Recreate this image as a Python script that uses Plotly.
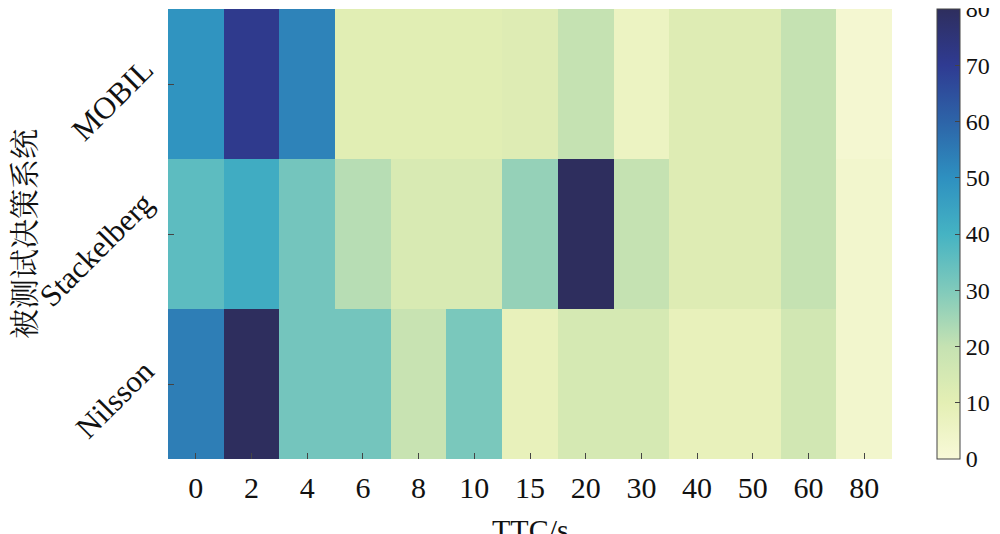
import plotly.graph_objects as go

ttc_labels = ["0", "2", "4", "6", "8", "10", "15", "20", "30", "40", "50", "60", "80"]
systems = ["MOBIL", "Stackelberg", "Nilsson"]
mobil = [49, 71, 53, 11, 11, 11, 12, 20, 6, 12, 12, 20, 2]
stackelberg = [36, 42, 32, 22, 14, 14, 27, 80, 20, 12, 12, 20, 3]
nilsson = [54, 80, 32, 32, 19, 31, 8, 15, 15, 8, 8, 16, 3]
cbar_ticks = [0, 10, 20, 30, 40, 50, 60, 70, 80]

ylgnbu = ['#f8f9d8', '#e4efb4', '#c5e2b2', '#80cabb', '#45b3c3',
          '#2e90c0', '#2d64a8', '#2f3b92', '#2e2e5e']
cscale = [[i / 8, c] for i, c in enumerate(ylgnbu)]

serif = "Liberation Serif, Times New Roman, serif"

fig = go.Figure(go.Heatmap(
    z=[mobil, stackelberg, nilsson],
    x=ttc_labels,
    y=systems,
    colorscale=cscale,
    zmin=0, zmax=80,
    xgap=0, ygap=0,
    colorbar=dict(
        thickness=23, len=1.0, lenmode="fraction",
        x=1.062, xanchor="left", xpad=0,
        y=1.0, yanchor="top", ypad=0,
        outlinecolor="#444", outlinewidth=1,
        ticks="inside", ticklen=5, tickcolor="#444",
        tickvals=cbar_ticks, ticklabeloverflow="allow",
        tickfont=dict(family=serif, size=24, color="#111"),
    ),
))

for s in systems:
    fig.add_annotation(
        x=0, xref="paper", xshift=-5, xanchor="right",
        y=s, yref="y", yanchor="middle", yshift=-15,
        text=s, textangle=-45, showarrow=False,
        font=dict(family=serif, size=31, color="#111"),
    )

# axis titles
fig.add_annotation(
    x=0, xref="paper", xshift=-146, xanchor="center",
    y=0.5, yref="paper", yanchor="middle",
    text="被测试决策系统", textangle=-90, showarrow=False,
    font=dict(family="Noto Serif CJK SC, Noto Sans CJK SC, serif", size=30, color="#111"),
)
fig.add_annotation(
    x=0.5, xref="paper", xanchor="center",
    y=0, yref="paper", yanchor="middle", yshift=-70,
    text="TTC/s", showarrow=False,
    font=dict(family=serif, size=30, color="#111"),
)

# page has an 8px body margin; size figure so it fits the 1000x534 window
fig.update_layout(
    width=992, height=526,
    margin=dict(l=160, r=108, t=1, b=75, autoexpand=False),
    paper_bgcolor="white", plot_bgcolor="white",
    xaxis=dict(
        type="category", ticks="inside", ticklen=6, tickcolor="#444",
        showline=False, showgrid=False, zeroline=False, automargin=False,
        ticklabelstandoff=8,
        tickfont=dict(family=serif, size=30, color="#111"),
    ),
    yaxis=dict(
        type="category", autorange="reversed", ticks="inside", ticklen=6, tickcolor="#444",
        showline=False, showgrid=False, zeroline=False, automargin=False,
        showticklabels=False,
    ),
)

fig.write_html("out.html")
